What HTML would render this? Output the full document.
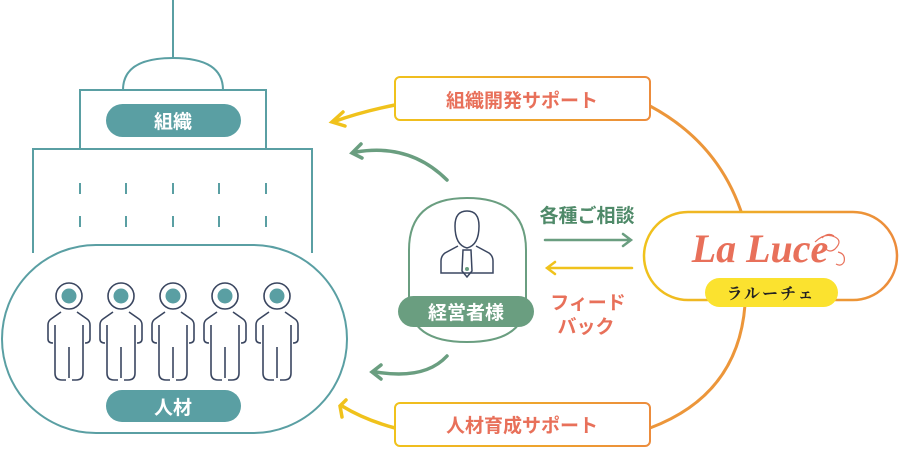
<!DOCTYPE html>
<html><head><meta charset="utf-8"><style>
html,body{margin:0;padding:0;background:#fff;width:900px;height:450px;overflow:hidden}
svg text{font-family:"Liberation Sans","Noto Sans CJK JP",sans-serif;font-weight:bold}
</style></head><body>
<svg width="900" height="450" viewBox="0 0 900 450" xmlns="http://www.w3.org/2000/svg">
<defs>
<linearGradient id="yo" x1="0" x2="1"><stop offset="0" stop-color="#f0c21c"/><stop offset="1" stop-color="#ec8c3c"/></linearGradient>
<g id="p" fill="none" stroke="#3a4660" stroke-width="1.6">
<circle cx="0" cy="296" r="13"/>
<circle cx="0" cy="296" r="7.5" fill="#5a9fa3" stroke="none"/>
<path d="M-8,312 L-18,319 Q-21,321 -21,325 L-21,339 Q-21,343 -16,343"/>
<path d="M8,312 L18,319 Q21,321 21,325 L21,339 Q21,343 16,343"/>
<path d="M-14,325 L-14,373 Q-14,380 -7,380 L-3,380"/>
<path d="M14,325 L14,373 Q14,380 7,380 L3,380"/>
<path d="M0,347 L0,378"/>
</g>
</defs>
<g fill="none" stroke="#5a9fa3" stroke-width="2">
<line x1="173" y1="0" x2="173" y2="58"/>
<path d="M123,90 Q123,58 173,58 Q223,58 223,90"/>
<path d="M80,149 L80,90 L266,90 L266,149"/>
<path d="M33,253 L33,149 L312,149 L312,253"/>
<path d="M80,183v11M126,183v11M173,183v11M219,183v11M266,183v11M80,216v11M126,216v11M173,216v11M219,216v11M266,216v11"/>
<rect x="2" y="245" width="345" height="188" rx="94" ry="94" fill="#fff"/>
</g>
<rect x="106" y="104" width="135" height="33" rx="16.5" fill="#5a9fa3"/>
<text x="173" y="128" font-size="19" fill="#fff" text-anchor="middle">組織</text>
<rect x="106" y="390" width="135" height="32" rx="16" fill="#5a9fa3"/>
<text x="173" y="414" font-size="19" fill="#fff" text-anchor="middle">人材</text>
<use href="#p" x="69"/><use href="#p" x="121"/><use href="#p" x="173"/><use href="#p" x="225"/><use href="#p" x="277"/>
<g fill="none" stroke="#f0c21c" stroke-width="3.5" stroke-linecap="round">
<path d="M395,105 Q360,112 333,122"/><path d="M343,112 L332,122 L345,126"/>
<path d="M395,428 Q365,420 342,406"/><path d="M346,400 L340,406 L342,417"/>
</g>
<g fill="none" stroke="#ec963a" stroke-width="3">
<path d="M650,106 Q723,145 745,224"/>
<path d="M745,305 Q738,395 650,428"/>
</g>
<rect x="395" y="77" width="255" height="43" rx="5" fill="#fff" stroke="url(#yo)" stroke-width="2"/>
<text x="522" y="107" font-size="19" fill="#e8705a" text-anchor="middle">組織開発サポート</text>
<rect x="395" y="403" width="255" height="43" rx="5" fill="#fff" stroke="url(#yo)" stroke-width="2"/>
<text x="522" y="432" font-size="19" fill="#e8705a" text-anchor="middle">人材育成サポート</text>
<rect x="644" y="212" width="253" height="88" rx="44" fill="#fff" stroke="url(#yo)" stroke-width="2.5"/>
<text x="760" y="262" font-size="40" fill="#e8705a" text-anchor="middle" font-style="italic" font-weight="normal" style="font-family:'Liberation Serif',serif">La Luce</text>
<path d="M815,242 q10,-10 20,-5 q8,4 0,12 q-5,4 -9,0 M822,238 q6,-6 12,-2 M838,252 q8,2 6,10 q-3,5 -8,2" fill="none" stroke="#e8705a" stroke-width="1.2"/>
<rect x="705" y="278" width="133" height="29" rx="14.5" fill="#fbe22f"/>
<text x="771" y="299" font-size="16" fill="#222" text-anchor="middle" font-weight="normal" letter-spacing="2" style="font-family:'Noto Serif CJK SC',serif">ラルーチェ</text>
<g fill="none" stroke="#6a9e80" stroke-width="2" stroke-linecap="round">
<path d="M409,300 L409,250 Q409,198 467,198 Q526,198 526,250 L526,300 Q526,342 467,342 Q409,342 409,300 Z" fill="#fff"/>
<path d="M447,180 Q410,143 356,152" stroke-width="3.5"/><path d="M361,144 L352,153 L362,158" stroke-width="3.5"/>
<path d="M447,356 Q425,380 376,372" stroke-width="3.5"/><path d="M381,365 L372,372 L381,379" stroke-width="3.5"/>
<path d="M545,240 L630,240 M623,234 L631,240 L623,246" stroke-width="2.5"/>
</g>
<path d="M632,268 L548,268 M555,262 L547,268 L555,274" fill="none" stroke="#f0c21c" stroke-width="2.5" stroke-linecap="round"/>
<g fill="none" stroke="#3a4660" stroke-width="1.5">
<path d="M467,211 q-12,0 -12,15 q0,19 12,22 q12,-3 12,-22 q0,-15 -12,-15 Z"/>
<path d="M458,246 L445,253 Q441,256 441,261 L441,273 L493,273 L493,261 Q493,256 489,253 L476,246"/>
<path d="M463,250 L462,271 L467,277 L472,271 L471,250 Z"/>
</g>
<circle cx="467" cy="269" r="2" fill="#6a9e80"/>
<rect x="398" y="296" width="136" height="31" rx="15.5" fill="#6a9e80"/>
<text x="466" y="319" font-size="19" fill="#fff" text-anchor="middle">経営者様</text>
<text x="587" y="222" font-size="19" fill="#4f8a69" text-anchor="middle">各種ご相談</text>
<text x="588" y="309" font-size="19" fill="#e8705a" text-anchor="middle">フィード</text>
<text x="586" y="333" font-size="19" fill="#e8705a" text-anchor="middle">バック</text>
</svg>
</body></html>
